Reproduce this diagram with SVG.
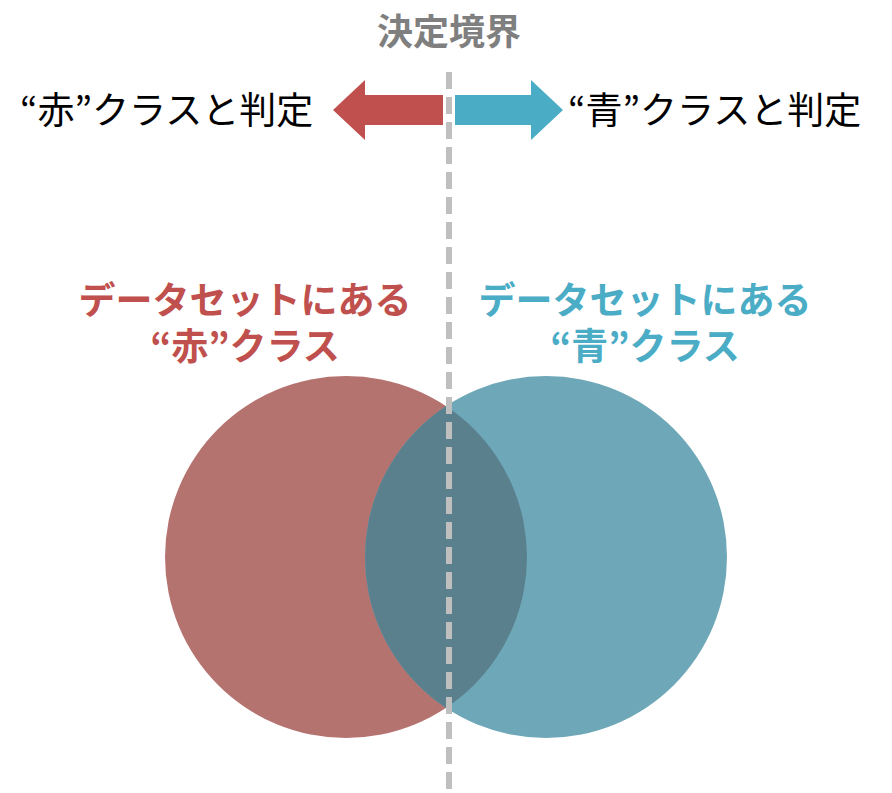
<svg xmlns="http://www.w3.org/2000/svg" width="892" height="793" viewBox="0 0 892 793">
<style>
.t{font-family:"Noto Sans CJK JP","Noto Sans",sans-serif}
.b{font-weight:bold;font-size:37px;text-anchor:middle}
</style>
<defs><clipPath id="cr"><circle cx="346" cy="557" r="181"/></clipPath></defs>
<rect width="892" height="793" fill="#fff"/>
<g id="red-set"><circle cx="346" cy="557" r="181" fill="#b57370"/></g>
<g id="blue-set"><circle cx="546" cy="557" r="181" fill="#6ea8b8"/>
<circle cx="546" cy="557" r="181" fill="#5a808e" clip-path="url(#cr)"/></g>
<g id="connectors">
<line x1="449" y1="72" x2="449" y2="793" stroke="#bfbfbf" stroke-width="6" stroke-dasharray="17,8"/>
<polygon points="443,95 365,95 365,80 333,110 365,140 365,125 443,125" fill="#c0504d"/>
<polygon points="455,95 531,95 531,80 563,110 531,140 531,125 455,125" fill="#4bacc6"/>
</g>
<g id="title"><text class="t" x="449" y="45" font-size="36" font-weight="bold" fill="#7f7f7f" text-anchor="middle">決定境界</text></g>
<g id="left-label"><text class="t" x="20" y="124" font-size="37" fill="#000">“赤”クラスと判定</text></g>
<g id="right-label"><text class="t" x="568" y="124" font-size="37" fill="#000">“青”クラスと判定</text></g>
<g id="red-title"><text class="t b" fill="#c0504d"><tspan x="245" y="314">データセットにある</tspan><tspan x="245" y="360">“赤”クラス</tspan></text></g>
<g id="blue-title"><text class="t b" fill="#4bacc6"><tspan x="645" y="314">データセットにある</tspan><tspan x="645" y="360">“青”クラス</tspan></text></g>
</svg>
